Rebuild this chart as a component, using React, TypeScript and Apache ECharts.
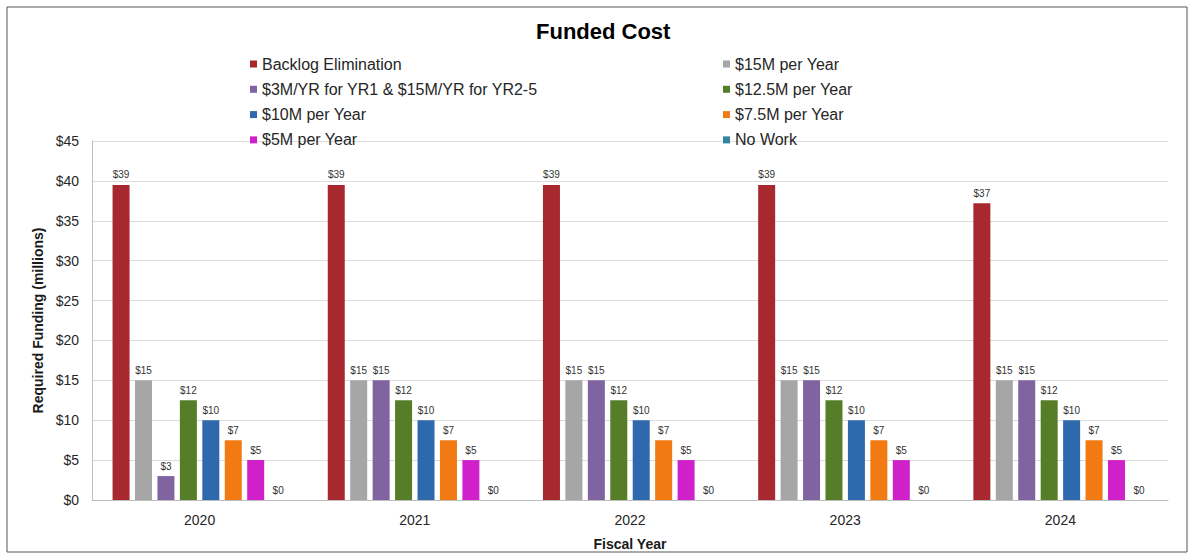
import React, { useEffect, useRef } from "react";
import * as echarts from "echarts";

const years = ["2020", "2021", "2022", "2023", "2024"];
const seriesNames = [
  "Backlog Elimination",
  "$15M per Year",
  "$3M/YR for YR1 & $15M/YR for YR2-5",
  "$12.5M per Year",
  "$10M per Year",
  "$7.5M per Year",
  "$5M per Year",
  "No Work",
];
const backlog = [39.5, 39.5, 39.5, 39.5, 37.2];
const fifteen = [15, 15, 15, 15, 15];
const threeThenFifteen = [3, 15, 15, 15, 15];
const twelveHalf = [12.5, 12.5, 12.5, 12.5, 12.5];
const ten = [10, 10, 10, 10, 10];
const sevenHalf = [7.5, 7.5, 7.5, 7.5, 7.5];
const five = [5, 5, 5, 5, 5];
const noWork = [0, 0, 0, 0, 0];
const seriesValues = [backlog, fifteen, threeThenFifteen, twelveHalf, ten, sevenHalf, five, noWork];
const colors = ["#A8282F", "#A6A6A6", "#8064A2", "#567D27", "#2E69AE", "#F27A12", "#CF20C9", "#31859C"];
const leftLegend = [seriesNames[0], seriesNames[2], seriesNames[4], seriesNames[6]];
const rightLegend = [seriesNames[1], seriesNames[3], seriesNames[5], seriesNames[7]];

const FONT = "'Liberation Sans', Arial, sans-serif";

export default function App() {
  const ref = useRef<HTMLDivElement>(null);
  useEffect(() => {
    if (!ref.current) return;
    const chart = echarts.init(ref.current, null, { renderer: "svg" });
    const legendCommon = {
      orient: "vertical",
      icon: "rect",
      itemWidth: 7,
      itemHeight: 7,
      itemGap: 7.3,
      top: 50,
      textStyle: { fontFamily: FONT, fontSize: 16, color: "#262626", lineHeight: 18 },
    };
    chart.setOption({
      animation: false,
      backgroundColor: "#ffffff",
      textStyle: { fontFamily: FONT },
      title: {
        text: "Funded Cost",
        left: 531,
        top: 15,
        textStyle: { fontFamily: FONT, fontSize: 22, fontWeight: "bold", color: "#000" },
      },
      legend: [
        { ...legendCommon, left: 245, data: leftLegend },
        { ...legendCommon, left: 718, data: rightLegend },
      ],
      grid: { left: 92, right: 20, top: 141, bottom: 55, containLabel: false },
      xAxis: {
        type: "category",
        data: years,
        name: "Fiscal Year",
        nameLocation: "middle",
        nameGap: 37,
        nameTextStyle: { fontFamily: FONT, fontSize: 14, fontWeight: "bold", color: "#1a1a1a" },
        axisLine: { lineStyle: { color: "#bfbfbf" } },
        axisTick: { show: false },
        axisLabel: { fontFamily: FONT, fontSize: 14, color: "#262626", margin: 13 },
      },
      yAxis: {
        type: "value",
        min: 0,
        max: 45,
        interval: 5,
        name: "Required Funding (millions)",
        nameLocation: "middle",
        nameGap: 46,
        nameTextStyle: { fontFamily: FONT, fontSize: 14, fontWeight: "bold", color: "#1a1a1a" },
        axisLine: { show: true, lineStyle: { color: "#bfbfbf" } },
        axisTick: { show: false },
        splitLine: { lineStyle: { color: "#dcdcdc" } },
        axisLabel: {
          fontFamily: FONT,
          fontSize: 14,
          color: "#262626",
          margin: 13,
          formatter: (v: number) => "$" + v,
        },
      },
      graphic: [
        {
          type: "rect",
          shape: { x: 7, y: 7, width: 1180, height: 545 },
          style: { fill: "none", stroke: "#555555", lineWidth: 1 },
          silent: true,
          z: 100,
        },
      ],
      series: seriesNames.map((name, i) => ({
        name,
        type: "bar",
        data: seriesValues[i],
        barWidth: 17,
        barGap: "32%",
        itemStyle: { color: colors[i] },
        label: {
          show: true,
          position: "top",
          distance: 5,
          fontFamily: FONT,
          fontSize: 10,
          color: "#333333",
          formatter: (p: any) => "$" + Math.floor(p.value),
        },
      })),
    });
    return () => chart.dispose();
  }, []);
  return (
    <div
      ref={ref}
      style={{ position: "absolute", left: 0, top: 0, width: 1188, height: 556, background: "#fff" }}
    />
  );
}
